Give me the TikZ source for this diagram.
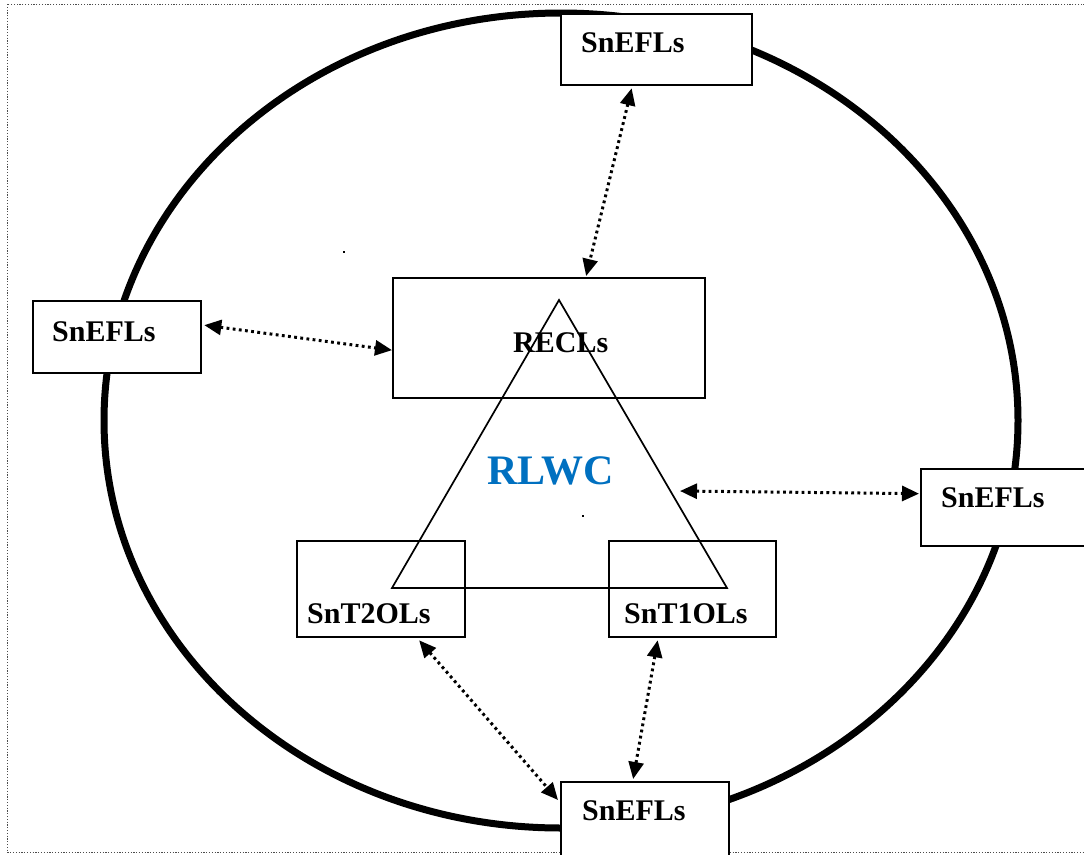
\documentclass[tikz,border=0pt]{standalone}
\usepackage{fontspec}
\setmainfont{Liberation Serif}
\usetikzlibrary{arrows.meta,calc}
\definecolor{rlblue}{RGB}{0,112,192}
\tikzset{
  boxnode/.style={draw=black,line width=2.3pt,fill=white,rectangle,inner sep=0pt,anchor=north west},
  lbl/.style={anchor=base west,inner sep=0pt,font=\bfseries\fontsize{30}{36}\selectfont},
  link/.style={line width=3pt,dash pattern=on 2.8pt off 3.4pt,
    {Triangle[length=17pt,width=15pt]}-{Triangle[length=17pt,width=15pt]}},
  stray/.style={fill=black,inner sep=0pt,minimum size=2.5pt,rectangle}
}
\begin{document}
\begin{tikzpicture}[x=1pt,y=-1pt]
\useasboundingbox (0,0) rectangle (1084,854);
% dotted frame
\draw[line width=1pt,dash pattern=on 1.2pt off 1.6pt,black!70] (7,4) rectangle (1095,852);
% big ellipse
\draw[line width=7pt] (561,420.5) ellipse [x radius=457, y radius=407.5];
% boxes
\node[boxnode,minimum width=191pt,minimum height=71pt] (top) at (560,13) {};
\node[boxnode,minimum width=168pt,minimum height=72pt] (left) at (32,300) {};
\node[boxnode,minimum width=312pt,minimum height=120pt] (recl) at (392,277) {};
\node[boxnode,minimum width=175pt,minimum height=77pt] (right) at (920,468) {};
\node[boxnode,minimum width=168pt,minimum height=96pt] (t2) at (296,540) {};
\node[boxnode,minimum width=167pt,minimum height=96pt] (t1) at (608,540) {};
\node[boxnode,minimum width=168pt,minimum height=75pt] (bot) at (560,781) {};
% triangle
\coordinate (apex) at (559,300);
\coordinate (bl) at (392,588);
\coordinate (br) at (727,588);
\draw[line width=1.7pt,line join=miter] (apex) -- (bl) -- (br) -- cycle;
% labels
\node[lbl] (ltop) at (581,52) {SnEFLs};
\node[lbl] (lleft) at (52,341) {SnEFLs};
\node[lbl] (lrecl) at (513,352) {RECLs};
\node[lbl] (lright) at (941,507) {SnEFLs};
\node[lbl] (lt2) at (307,623) {SnT2OLs};
\node[lbl] (lt1) at (624,623) {SnT1OLs};
\node[lbl] (lbot) at (582,820) {SnEFLs};
\node[anchor=base west,inner sep=0pt,text=rlblue,font=\bfseries\fontsize{42}{48}\selectfont] (rlwc) at (487,484) {RLWC};
% stray dots
\node[stray] (d1) at (344,252) {};
\node[stray] (d2) at (583,516) {};
% connectors
\coordinate (tri) at (680,491);
\draw[link] ($(top.south)+(-25,2)$) -- ($(recl.north)+(37,-1)$);
\draw[link] ($(left.east)+(2,-12)$) -- ($(recl.west)+(0,12)$);
\draw[link] (tri) -- ($(right.west)+(-1,-14)$);
\draw[link] ($(t2.south)+(38,2)$) -- ($(bot.north west)+(-2,19)$);
\draw[link] ($(t1.south)+(-35,2)$) -- ($(bot.north)+(-12,-2)$);
\end{tikzpicture}
\end{document}
